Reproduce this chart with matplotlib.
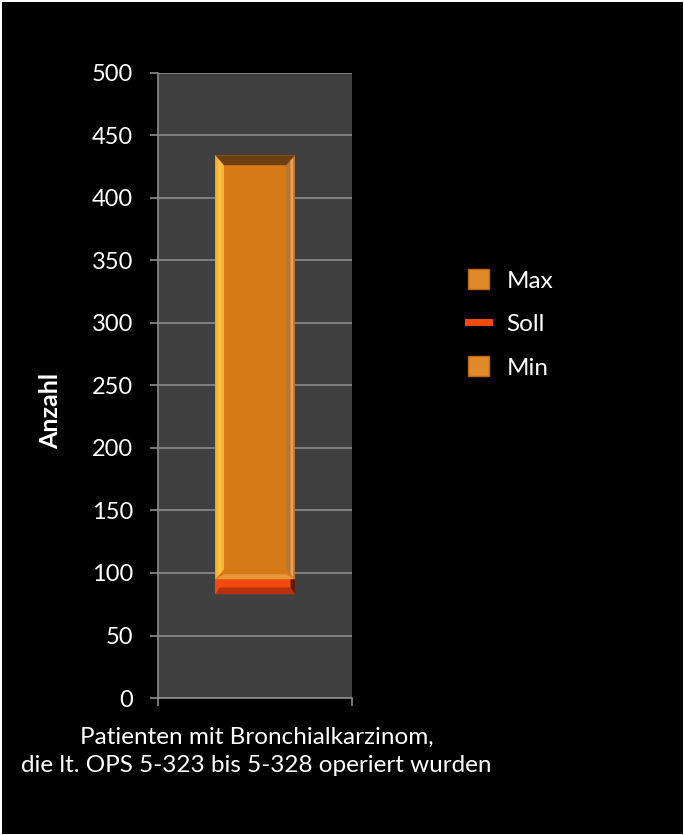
import matplotlib.pyplot as plt
from matplotlib.patches import Patch
from matplotlib.lines import Line2D

plt.rcParams['font.family'] = ['Lato', 'DejaVu Sans']

# data
categories = ["Patienten mit Bronchialkarzinom,\ndie lt. OPS 5-323 bis 5-328 operiert wurden"]
min_vals = [83]      # unsichtbarer Sockel
soll_vals = [12]
max_vals = [339]
series_names = ["Max", "Soll", "Min"]
yticks = list(range(0, 501, 50))

fs = 17.5

fig = plt.figure(figsize=(6.84, 8.35), dpi=100, facecolor="black",
                 edgecolor="white", linewidth=2)
ax = fig.add_axes([0.231, 0.164, 0.284, 0.749])
ax.set_facecolor("#404040")

x = list(range(len(categories)))
w = 0.41

ax.bar(x, min_vals, w, color="none", zorder=3)
ax.bar(x, soll_vals, w, bottom=min_vals, color="#F24A0C", zorder=3)
tops = [m + s for m, s in zip(min_vals, soll_vals)]
ax.bar(x, max_vals, w, bottom=tops, color="#D57A17", zorder=3)

# simple bevel shading, computed from the bar extents
bx, by = 0.045, 8
for xi, m, s, mx in zip(x, min_vals, soll_vals, max_vals):
    x0, x1 = xi - w / 2, xi + w / 2
    y0, y1 = m + s, m + s + mx
    ax.fill([x0, x0 + bx, x0 + bx, x0], [y0, y0 + by, y1 - by, y1], color="#FDB22E", zorder=4, lw=0)
    ax.fill([x0 + bx * 0.35, x0 + bx * 0.7, x0 + bx * 0.7, x0 + bx * 0.35],
            [y0 + by * 0.4, y0 + by * 0.7, y1 - by * 0.7, y1 - by * 0.4], color="#FFC843", zorder=4, lw=0)
    ax.fill([x1, x1 - bx, x1 - bx, x1], [y0, y0 + by, y1 - by, y1], color="#B9762F", zorder=4, lw=0)
    ax.fill([x1 - bx * 0.5, x1 - bx * 0.2, x1 - bx * 0.2, x1 - bx * 0.5],
            [y0 + by * 0.5, y0 + by * 0.2, y1 - by * 0.2, y1 - by * 0.5], color="#E7A15E", zorder=4, lw=0)
    ax.fill([x0, x1, x1 - bx, x0 + bx], [y1, y1, y1 - by, y1 - by], color="#6E4010", zorder=4, lw=0)
    ax.fill([x0, x1, x1 - bx, x0 + bx], [y0, y0, y0 + by * 0.5, y0 + by * 0.5], color="#E89A3A", zorder=4, lw=0)
    # soll segment
    ax.fill([x0, x1, x1 - bx * 0.5, x0 + bx * 0.5], [m, m, m + s * 0.45, m + s * 0.45],
            color="#B8300C", zorder=4, lw=0)
    ax.fill([x1, x1 - bx * 0.5, x1 - bx * 0.5, x1], [m, m + s * 0.45, m + s, m + s],
            color="#5A1A08", zorder=4, lw=0)

ax.set_ylim(0, 500)
ax.set_xlim(-0.5, 0.5)
ax.set_yticks(yticks)
ax.yaxis.grid(True, color="#8C8C8C", lw=1.2, zorder=1)
ax.set_axisbelow(True)
ax.tick_params(axis="y", colors="#8C8C8C", labelcolor="white", labelsize=17,
               length=6, width=1.2, direction="out", pad=12)
ax.set_xticks([-0.5, 0.5])
ax.set_xticklabels([])
ax.tick_params(axis="x", colors="#8C8C8C", length=6, width=1.2, direction="out")
for sp in ["top", "right"]:
    ax.spines[sp].set_visible(False)
for sp in ["left", "bottom"]:
    ax.spines[sp].set_color("#8C8C8C")
    ax.spines[sp].set_linewidth(1.2)

fig.text(0.375, 0.1, categories[0], ha="center", va="center", color="white",
         fontsize=fs, linespacing=1.38)

ax.set_ylabel("Anzahl", color="white", fontsize=18, fontweight="bold")
ax.yaxis.set_label_coords(-0.495, 0.459)

handles = [Patch(facecolor="#E08A2C", edgecolor="#C06A10"),
           Line2D([], [], color="#F24A0C", lw=5),
           Patch(facecolor="#E08A2C", edgecolor="#C06A10")]
leg = fig.legend(handles, series_names, loc="center left", bbox_to_anchor=(0.652, 0.612),
                 frameon=False, fontsize=fs, labelcolor="white", handlelength=0.85,
                 handleheight=0.85, labelspacing=0.88, handletextpad=0.75)

fig.savefig("out.png", dpi=100, facecolor=fig.get_facecolor(), edgecolor=fig.get_edgecolor())
